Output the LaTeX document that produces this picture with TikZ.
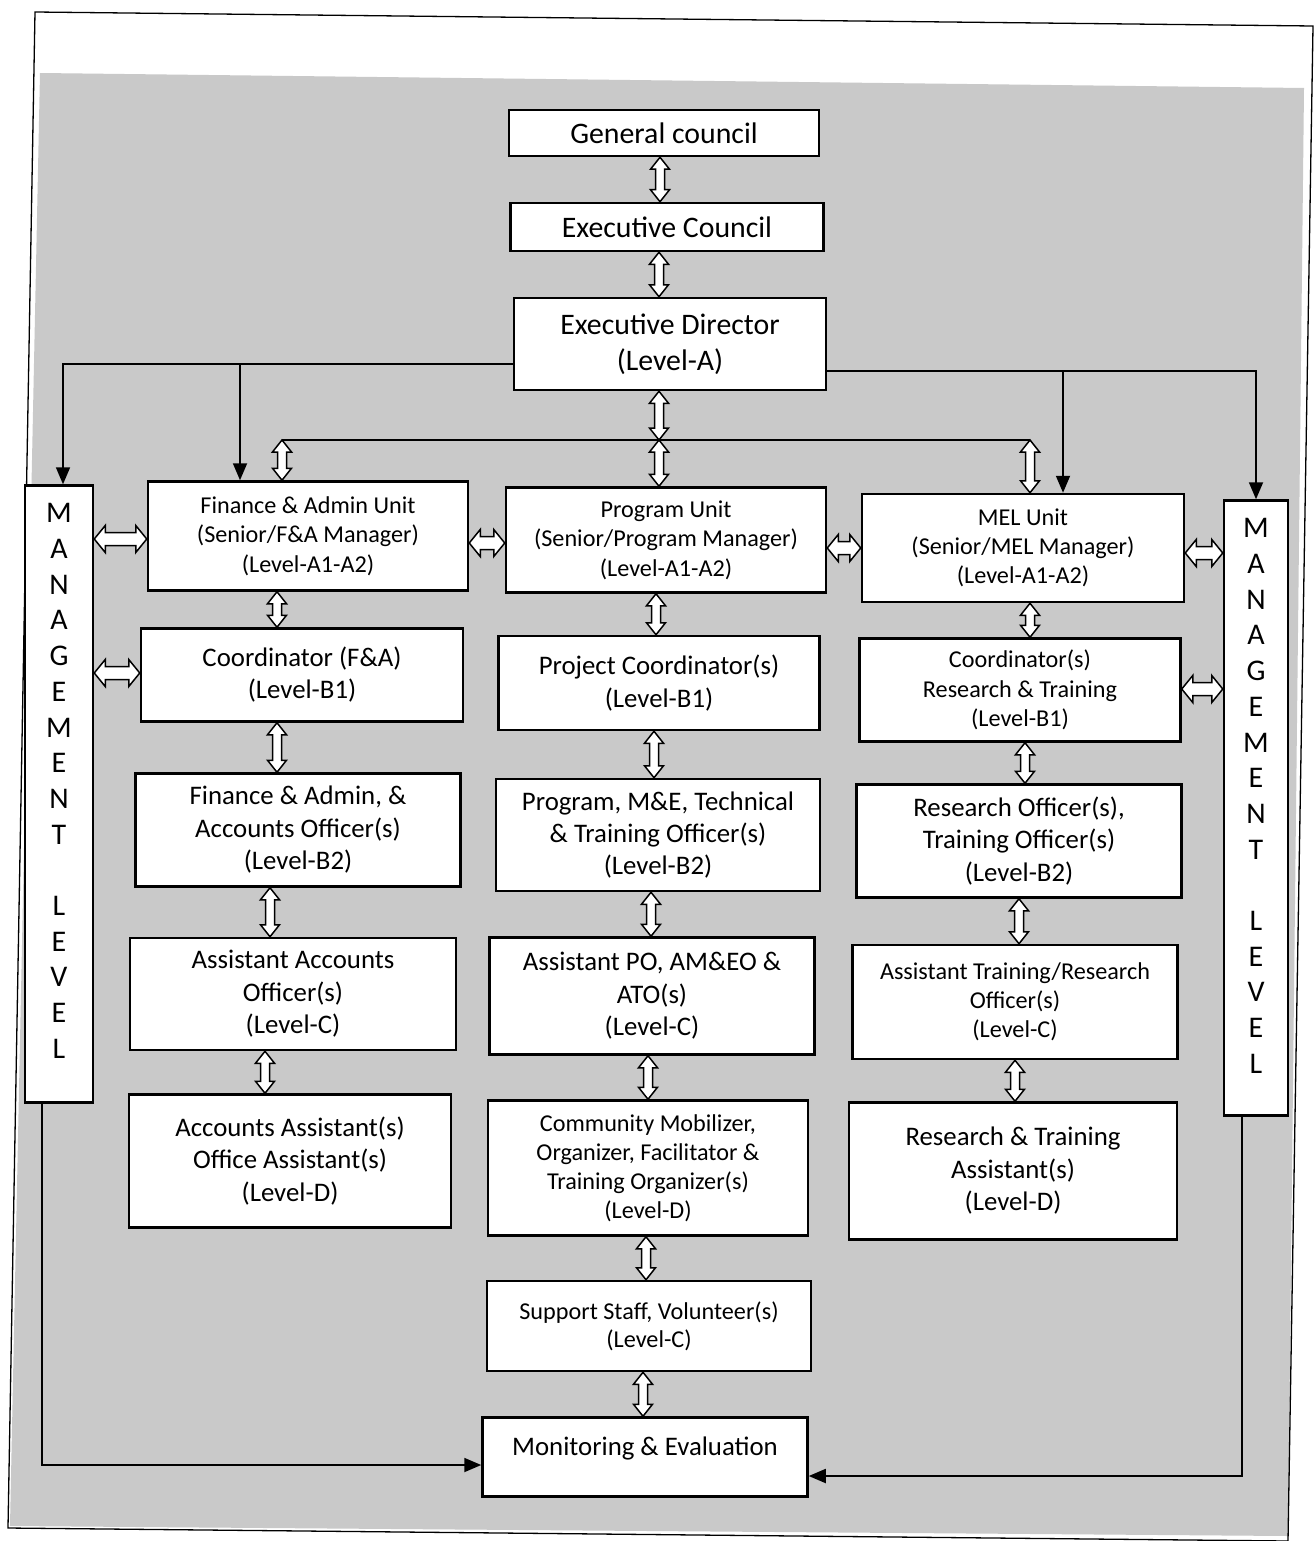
\documentclass[tikz,border=0pt]{standalone}
\usepackage{fontspec}
\setmainfont{Carlito}
\usetikzlibrary{arrows.meta,calc}
\definecolor{bggray}{rgb}{0.79,0.79,0.79}
\newcommand\fsz[2]{\fontsize{#1pt}{#2pt}\selectfont}
% vertical hollow double arrow: x, top anchor, bottom anchor
\newcommand\vda[3]{\draw[hol] let \p1=(#2), \p2=(#3) in
  (#1pt,\y1) -- (#1pt+9.5pt,\y1-12pt) -- (#1pt+4.5pt,\y1-12pt) -- (#1pt+4.5pt,\y2+12pt)
  -- (#1pt+9.5pt,\y2+12pt) -- (#1pt,\y2) -- (#1pt-9.5pt,\y2+12pt) -- (#1pt-4.5pt,\y2+12pt)
  -- (#1pt-4.5pt,\y1-12pt) -- (#1pt-9.5pt,\y1-12pt) -- cycle;}
% horizontal hollow double arrow: y (from top), left anchor, right anchor
\newcommand\hda[3]{\draw[hol] let \p1=(#2), \p2=(#3) in
  (\x1,-#1pt) -- (\x1+11pt,-#1pt+13.5pt) -- (\x1+11pt,-#1pt+6.5pt) -- (\x2-11pt,-#1pt+6.5pt)
  -- (\x2-11pt,-#1pt+13.5pt) -- (\x2,-#1pt) -- (\x2-11pt,-#1pt-13.5pt) -- (\x2-11pt,-#1pt-6.5pt)
  -- (\x1+11pt,-#1pt-6.5pt) -- (\x1+11pt,-#1pt-13.5pt) -- cycle;}
\begin{document}
\begin{tikzpicture}[x=1pt,y=1pt,
  box/.style={draw=black, line width=2.5pt, fill=white, rectangle, align=center, inner sep=0pt},
  hol/.style={draw=black, fill=white, line width=1.5pt, line join=miter},
  arr/.style={line width=1.8pt, -{Triangle[length=17pt,width=14pt]}},
  ln/.style={line width=1.8pt},
]
\useasboundingbox (0,0) rectangle (1315,-1541);
\fill[white] (0,0) rectangle (1315,-1541);
\fill[bggray] (40,-73) -- (1304,-88) -- (1288,-1536) -- (10,-1526) -- cycle;
\draw[line width=1.3pt] (35,-12) -- (1313,-26) -- (1288,-1541) -- (8,-1528) -- cycle;

% top chain
\node[box, minimum width=310, minimum height=46, font=\fsz{29.8}{34}] (gc) at (664,-133) {General council};
\node[box, minimum width=313, minimum height=48, font=\fsz{29.8}{34}] (ec) at (667,-227) {Executive Council};
\node[box, minimum width=312, minimum height=92, font=\fsz{29.8}{36}] (ed) at (670,-344) {Executive Director\\(Level-A)};

% management level boxes
\node[box, minimum width=68, minimum height=617, font=\fsz{30}{35.7}, text depth=26pt] (mgL) at (59,-794)
  {M\\A\\N\\A\\G\\E\\M\\E\\N\\T\\[35.7pt]L\\E\\V\\E\\L};
\node[box, minimum width=64, minimum height=615, font=\fsz{30}{35.7}, text depth=24pt] (mgR) at (1256,-808)
  {M\\A\\N\\A\\G\\E\\M\\E\\N\\T\\[35.7pt]L\\E\\V\\E\\L};

% left column
\node[box, minimum width=320, minimum height=109, font=\fsz{24.2}{29.5}] (fa) at (308,-536)
  {Finance \& Admin Unit\\(Senior/F\&A Manager)\\(Level-A1-A2)};
\node[box, minimum width=322, minimum height=93, font=\fsz{26.8}{32}] (fco) at (302,-675)
  {Coordinator (F\&A)\\(Level-B1)};
\node[box, minimum width=325, minimum height=113, font=\fsz{26.8}{32.5}] (fo) at (298,-830)
  {Finance \& Admin, \&\\Accounts Officer(s)\\(Level-B2)};
\node[box, minimum width=326, minimum height=112, font=\fsz{26.8}{32.5}] (fa2) at (293,-994)
  {Assistant Accounts\\Officer(s)\\(Level-C)};
\node[box, minimum width=322, minimum height=133, font=\fsz{26.8}{32.5}] (fd) at (290,-1161)
  {Accounts Assistant(s)\\Office Assistant(s)\\(Level-D)};

% middle column
\node[box, minimum width=320, minimum height=105, font=\fsz{24.2}{29.5}] (pu) at (666,-540)
  {Program Unit\\(Senior/Program Manager)\\(Level-A1-A2)};
\node[box, minimum width=321, minimum height=94, font=\fsz{26.8}{33}] (pco) at (659,-683)
  {Project Coordinator(s)\\(Level-B1)};
\node[box, minimum width=324, minimum height=112, font=\fsz{26.8}{32}] (po) at (658,-835)
  {Program, M\&E, Technical\\\& Training Officer(s)\\(Level-B2)};
\node[box, minimum width=325, minimum height=117, font=\fsz{26.8}{32.5}] (pa) at (652,-996)
  {Assistant PO, AM\&EO \&\\ATO(s)\\(Level-C)};
\node[box, minimum width=320, minimum height=135, font=\fsz{24.2}{29}] (pd) at (648,-1168)
  {Community Mobilizer,\\Organizer, Facilitator \&\\Training Organizer(s)\\(Level-D)};
\node[box, minimum width=324, minimum height=90, font=\fsz{24.2}{28}] (ss) at (649,-1326)
  {Support Staff, Volunteer(s)\\(Level-C)};
\node[box, minimum width=325, minimum height=79, font=\fsz{26.8}{30}, text depth=21pt] (me) at (645,-1457)
  {Monitoring \& Evaluation};

% right column
\node[box, minimum width=322, minimum height=108, font=\fsz{24.2}{29}] (mel) at (1023,-548)
  {MEL Unit\\(Senior/MEL Manager)\\(Level-A1-A2)};
\node[box, minimum width=321, minimum height=103, font=\fsz{24.2}{29.5}] (rco) at (1020,-690)
  {Coordinator(s)\\Research \& Training\\(Level-B1)};
\node[box, minimum width=325, minimum height=113, font=\fsz{26.8}{32.5}] (ro) at (1019,-841)
  {Research Officer(s),\\Training Officer(s)\\(Level-B2)};
\node[box, minimum width=325, minimum height=114, font=\fsz{24.2}{29}] (ra) at (1015,-1002)
  {Assistant Training/Research\\Officer(s)\\(Level-C)};
\node[box, minimum width=328, minimum height=137, font=\fsz{26.8}{32.5}] (rd) at (1013,-1171)
  {Research \& Training\\Assistant(s)\\(Level-D)};

% filled arrows from Executive Director
\coordinate (j1) at (240,-364);
\coordinate (j2) at (1063,-371);
\draw[arr] ([yshift=-20]ed.west) -| ([xshift=4]mgL.north);
\draw[arr] (j1) -- (j1 |- fa.north);
\draw[arr] ([yshift=-27]ed.east) -| (mgR.north);
\draw[arr] (j2) -- (j2 |- mel.north);

% bus to units
\coordinate (busL) at (282,-440);
\coordinate (busC) at (659,-440);
\coordinate (busR) at (1030,-440);
\draw[ln] (busL) -- (busR);

% vertical hollow double arrows
\vda{660}{gc.south}{ec.north}
\vda{659}{ec.south}{ed.north}
\vda{659}{ed.south}{busC}
\vda{659}{busC}{pu.north}
\vda{282}{busL}{fa.north}
\vda{1030}{busR}{mel.north}

\vda{277}{fa.south}{fco.north}
\vda{277}{fco.south}{fo.north}
\vda{270}{fo.south}{fa2.north}
\vda{265}{fa2.south}{fd.north}

\vda{656}{pu.south}{pco.north}
\vda{654}{pco.south}{po.north}
\vda{651}{po.south}{pa.north}
\vda{648}{pa.south}{pd.north}
\vda{646}{pd.south}{ss.north}
\vda{643}{ss.south}{me.north}

\vda{1030}{mel.south}{rco.north}
\vda{1025}{rco.south}{ro.north}
\vda{1019}{ro.south}{ra.north}
\vda{1015}{ra.south}{rd.north}

% horizontal hollow double arrows
\hda{539}{mgL.east}{fa.west}
\hda{543}{fa.east}{pu.west}
\hda{548}{pu.east}{mel.west}
\hda{553}{mel.east}{mgR.west}
\hda{673}{mgL.east}{fco.west}
\hda{689}{rco.east}{mgR.west}

% to Monitoring & Evaluation
\draw[arr] ([xshift=-17]mgL.south) |- ([yshift=-8]me.west);
\draw[arr] ([xshift=-14]mgR.south) |- ([yshift=-19]me.east);
\end{tikzpicture}
\end{document}
